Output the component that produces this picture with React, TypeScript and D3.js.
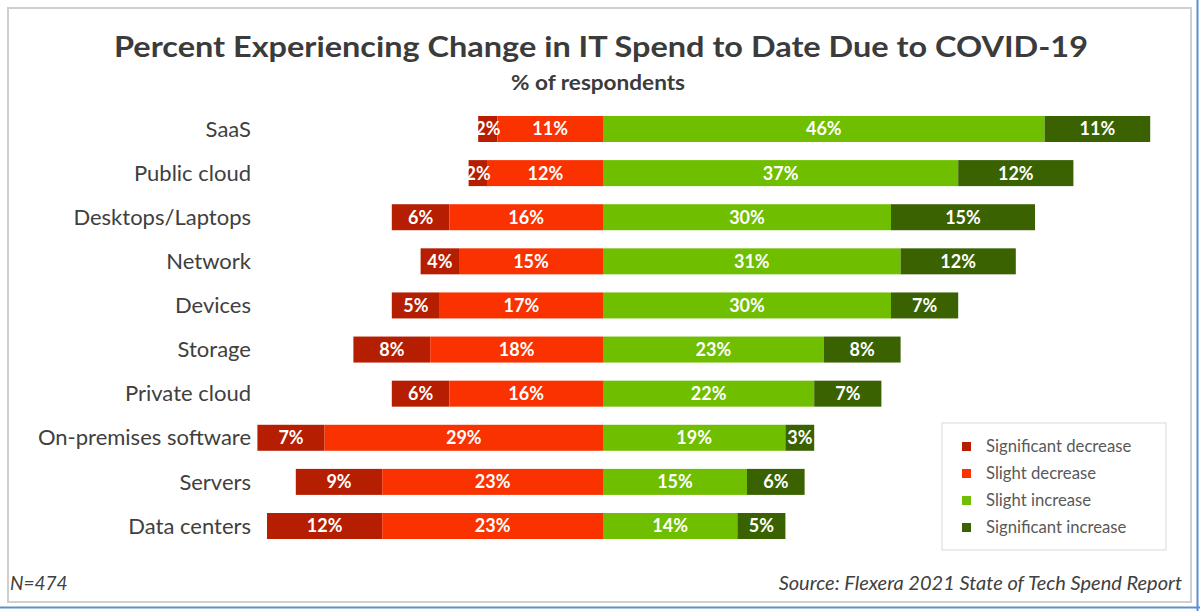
import React from "react";
import * as d3 from "d3";

const categories = [
  "SaaS",
  "Public cloud",
  "Desktops/Laptops",
  "Network",
  "Devices",
  "Storage",
  "Private cloud",
  "On-premises software",
  "Servers",
  "Data centers",
];
const significantDecrease = [2, 2, 6, 4, 5, 8, 6, 7, 9, 12];
const slightDecrease = [11, 12, 16, 15, 17, 18, 16, 29, 23, 23];
const slightIncrease = [46, 37, 30, 31, 30, 23, 22, 19, 15, 14];
const significantIncrease = [11, 12, 15, 12, 7, 8, 7, 3, 6, 5];
const seriesNames = ["Significant decrease", "Slight decrease", "Slight increase", "Significant increase"];
const seriesColors = ["#B51E00", "#FA3200", "#6FBE00", "#3A6200"];

const W = 1200;
const H = 611;
const FONT = "Lato, 'Open Sans', sans-serif";

export default function App() {
  const x = d3.scaleLinear().domain([-36, 57]).range([603 - 36 * 9.6, 603 + 57 * 9.6]);
  const y = d3.scalePoint<string>().domain(categories).range([129, 526]);
  const barH = 26;

  const rows = categories.map((c, i) => {
    const sd = significantDecrease[i];
    const sl = slightDecrease[i];
    const si = slightIncrease[i];
    const sg = significantIncrease[i];
    const segs = [
      { s: 0, x0: -(sd + sl), x1: -sl, v: sd },
      { s: 1, x0: -sl, x1: 0, v: sl },
      { s: 2, x0: 0, x1: si, v: si },
      { s: 3, x0: si, x1: si + sg, v: sg },
    ];
    return { c, segs };
  });

  return (
    <svg
      width={W}
      height={H}
      style={{ position: "absolute", left: 0, top: 0, background: "#fff" }}
      fontFamily={FONT}
    >
      <rect x={0} y={0} width={W} height={H} fill="#fff" />
      {/* frame */}
      <rect x={8} y={8} width={1183} height={594} fill="none" stroke="#cfcfcf" strokeWidth={2} />
      <line x1={1197.5} y1={0} x2={1197.5} y2={611} stroke="#5a8fd6" strokeWidth={2} />
      <line x1={0} y1={607.5} x2={1200} y2={607.5} stroke="#5a8fd6" strokeWidth={2} />

      <text
        x={601}
        y={57}
        textAnchor="middle"
        fontSize={29}
        fontWeight={700}
        fill="#3b3b3b"
        textLength={974}
        lengthAdjust="spacingAndGlyphs"
      >
        Percent Experiencing Change in IT Spend to Date Due to COVID-19
      </text>
      <text x={598} y={90} textAnchor="middle" fontSize={21} fontWeight={700} fill="#3b3b3b"
        textLength={174} lengthAdjust="spacingAndGlyphs">
        % of respondents
      </text>

      {rows.map((r) => {
        const cy = y(r.c) as number;
        return (
          <g key={r.c}>
            <text x={251} y={cy} dy="0.35em" textAnchor="end" fontSize={22} fill="#404040">
              {r.c}
            </text>
            {r.segs.map((sg) => (
              <rect
                key={sg.s}
                x={x(sg.x0)}
                y={cy - barH / 2}
                width={x(sg.x1) - x(sg.x0)}
                height={barH}
                fill={seriesColors[sg.s]}
              />
            ))}
            {r.segs.map((sg) => (
              <text
                key={"t" + sg.s}
                x={(x(sg.x0) + x(sg.x1)) / 2}
                y={cy}
                dy="0.36em"
                textAnchor="middle"
                fontSize={18}
                fontWeight={700}
                fill="#fff"
              >
                {sg.v}%
              </text>
            ))}
          </g>
        );
      })}

      {/* legend */}
      <rect x={942} y={423} width={224} height={127} fill="#fff" stroke="#d9d9d9" strokeWidth={1} />
      {seriesNames.map((n, i) => (
        <g key={n}>
          <rect x={962} y={442 + i * 27} width={9} height={9} fill={seriesColors[i]} />
          <text x={986} y={446.5 + i * 27} dy="0.35em" fontSize={16.7} fill="#595959">
            {n}
          </text>
        </g>
      ))}

      <text x={10} y={590} fontSize={19} fontStyle="italic" fill="#404040">
        N=474
      </text>
      <text x={1182} y={590} textAnchor="end" fontSize={20} fontStyle="italic" fill="#404040">
        Source: Flexera 2021 State of Tech Spend Report
      </text>
    </svg>
  );
}
